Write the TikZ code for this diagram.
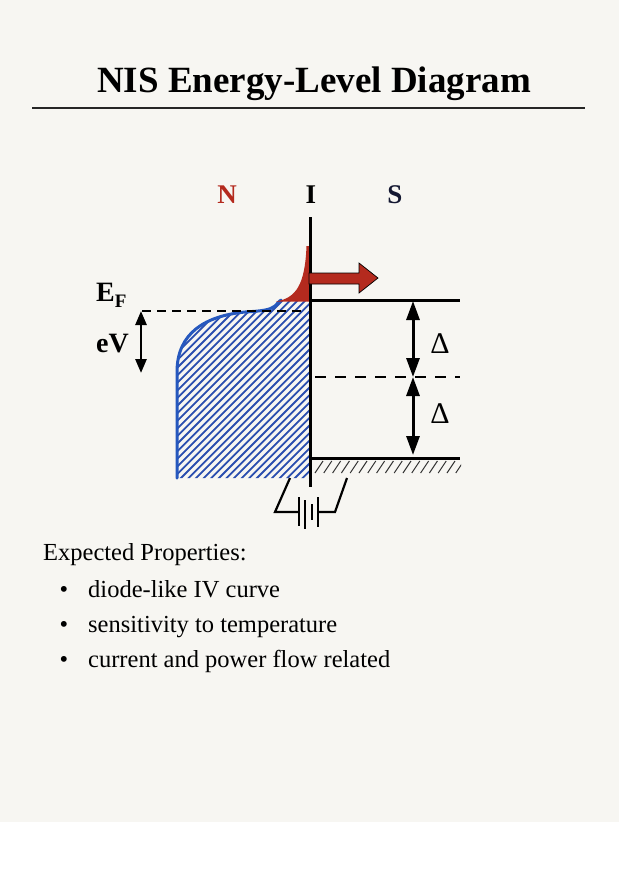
\documentclass[tikz,border=0pt]{standalone}
\usepackage{fontspec}
\setmainfont{Liberation Serif}
\usetikzlibrary{arrows.meta}
\definecolor{paper}{RGB}{247,246,242}
\definecolor{nred}{RGB}{180,42,30}
\definecolor{nblue}{RGB}{38,88,190}
\definecolor{hatchblue}{RGB}{42,78,175}
\definecolor{sdark}{RGB}{20,24,50}
\begin{document}
\begin{tikzpicture}[x=1pt,y=-1pt,
  lbl/.style={font=\fontsize{27}{30}\selectfont\bfseries, inner sep=0pt, anchor=base},
  txt/.style={font=\fontsize{24.5}{28}\selectfont, inner sep=0pt, anchor=base west},
  dlabel/.style={font=\fontsize{30}{32}\selectfont, inner sep=0pt, anchor=base},
  dblarrow/.style={line width=3pt, {Triangle[width=13pt,length=19pt]}-{Triangle[width=13pt,length=19pt]}},
  smallarrow/.style={line width=2.6pt, {Triangle[width=11pt,length=14pt]}-{Triangle[width=11pt,length=14pt]}},
  band/.style={line width=3pt, line cap=butt},
  dashline/.style={line width=1.5pt, dash pattern=on 9pt off 6pt},
  wire/.style={line width=2.2pt, line join=miter}
]
\useasboundingbox (0,0) rectangle (619,873);
\fill[white] (0,0) rectangle (619,873);
\fill[paper] (0,0) rectangle (619,822);

% title
\node[font=\fontsize{37}{42}\selectfont\bfseries, inner sep=0pt, anchor=base] (title) at (314,92) {NIS Energy-Level Diagram};
\coordinate (ruleL) at (32,108);
\coordinate (ruleR) at (585,108);
\draw[line width=1.4pt, black!85] (ruleL) -- (ruleR);

% labels N I S
\node[lbl, text=nred] (N) at (227,203) {N};
\node[lbl] (I) at (311,203) {I};
\node[lbl, text=sdark] (S) at (395,203) {S};

% blue region hatch
\def\bluepath{(177,478) -- (177,372) .. controls (177,333) and (205,316) .. (245,312) .. controls (262,311) and (270,310) .. (275,306) .. controls (278,303) and (279,301) .. (281,300) -- (310,300) -- (310,478) -- cycle}
\begin{scope}
  \clip \bluepath;
  \foreach \k in {-36,...,19} \draw[hatchblue, line width=1.8pt] (177+\k*7.6, 482) -- ++(250,-250);
\end{scope}
\draw[nblue, line width=3pt, line cap=round] (177,478) -- (177,372) .. controls (177,333) and (205,316) .. (245,312) .. controls (262,311) and (270,310) .. (275,306) .. controls (278,303) and (279,301) .. (281,300);

% red tail
\fill[nred] (276,301.5) .. controls (296,298) and (305,285) .. (306.5,246) -- (311,246) -- (311,301.5) -- cycle;

% E_F dashed line
\coordinate (efL) at (142,311);
\coordinate (efR) at (305,311);
\draw[dashline] (efL) -- (efR);

% S hatch below lower band
\begin{scope}
  \clip (312,459) rectangle (461,478);
  \foreach \k in {0,...,16} \draw[line width=1pt, black!80] (315+\k*8.8, 473) -- ++(8,-12);
\end{scope}

% S bands
\coordinate (upL) at (310,300);
\coordinate (upR) at (460,300);
\coordinate (loL) at (310,458);
\coordinate (loR) at (460,458);
\draw[band] (upL) -- (upR);
\draw[band] (loL) -- (loR);
\coordinate (midL) at (315,377);
\coordinate (midR) at (460,377);
\draw[dashline, dash pattern=on 11pt off 9pt] (midL) -- (midR);

% insulator line
\coordinate (itop) at (310,217);
\coordinate (ibot) at (310,487);
\draw[line width=3pt] (itop) -- (ibot);

% red arrow
\draw[fill=nred, line width=0.7pt, line join=miter] (309,273) -- (359,273) -- (359,263) -- (378,278) -- (359,293) -- (359,284) -- (309,284) -- cycle;

% Delta arrows
\coordinate (d1) at (413,301);
\coordinate (d2) at (413,377);
\coordinate (d3) at (413,455);
\draw[dblarrow] (d1) -- (d2);
\draw[dblarrow] (d2) -- (d3);
\node[dlabel] (delta1) at (440,353) {Δ};
\node[dlabel] (delta2) at (440,423) {Δ};

% E_F and eV
\node[font=\fontsize{28}{30}\selectfont\bfseries, inner sep=0pt, anchor=base west] (EF) at (96,301) {E\raisebox{-6pt}{\fontsize{19}{20}\selectfont F}};
\node[font=\fontsize{28}{30}\selectfont\bfseries, inner sep=0pt, anchor=base west] (eV) at (96,352) {eV};
\coordinate (ev1) at (141,311);
\coordinate (ev2) at (141,373);
\draw[smallarrow] (ev1) -- (ev2);

% battery
\coordinate (bw1) at (290,478);
\coordinate (bw2) at (275,512);
\coordinate (bw3) at (299,512);
\coordinate (bw4) at (318,512);
\coordinate (bw5) at (335,512);
\coordinate (bw6) at (347,478);
\draw[wire] (bw1) -- (bw2) -- (bw3);
\draw[wire] (bw4) -- (bw5) -- (bw6);
\draw[line width=2.4pt] (299,497) -- (299,526);
\draw[line width=2.4pt] (305,500) -- (305,529);
\draw[line width=2.4pt] (312,504) -- (312,520);
\draw[line width=2.4pt] (318,497) -- (318,527);

% text
\node[txt] (props) at (43,560) {Expected Properties:};
\node[font=\fontsize{24.5}{28}\selectfont, inner sep=0pt, anchor=base] (u1) at (64,597) {•};
\node[font=\fontsize{24.5}{28}\selectfont, inner sep=0pt, anchor=base] (u2) at (64,632) {•};
\node[font=\fontsize{24.5}{28}\selectfont, inner sep=0pt, anchor=base] (u3) at (64,667) {•};
\node[txt] (b1) at (88,597) {diode-like IV curve};
\node[txt] (b2) at (88,632) {sensitivity to temperature};
\node[txt] (b3) at (88,667) {current and power flow related};
\end{tikzpicture}
\end{document}
